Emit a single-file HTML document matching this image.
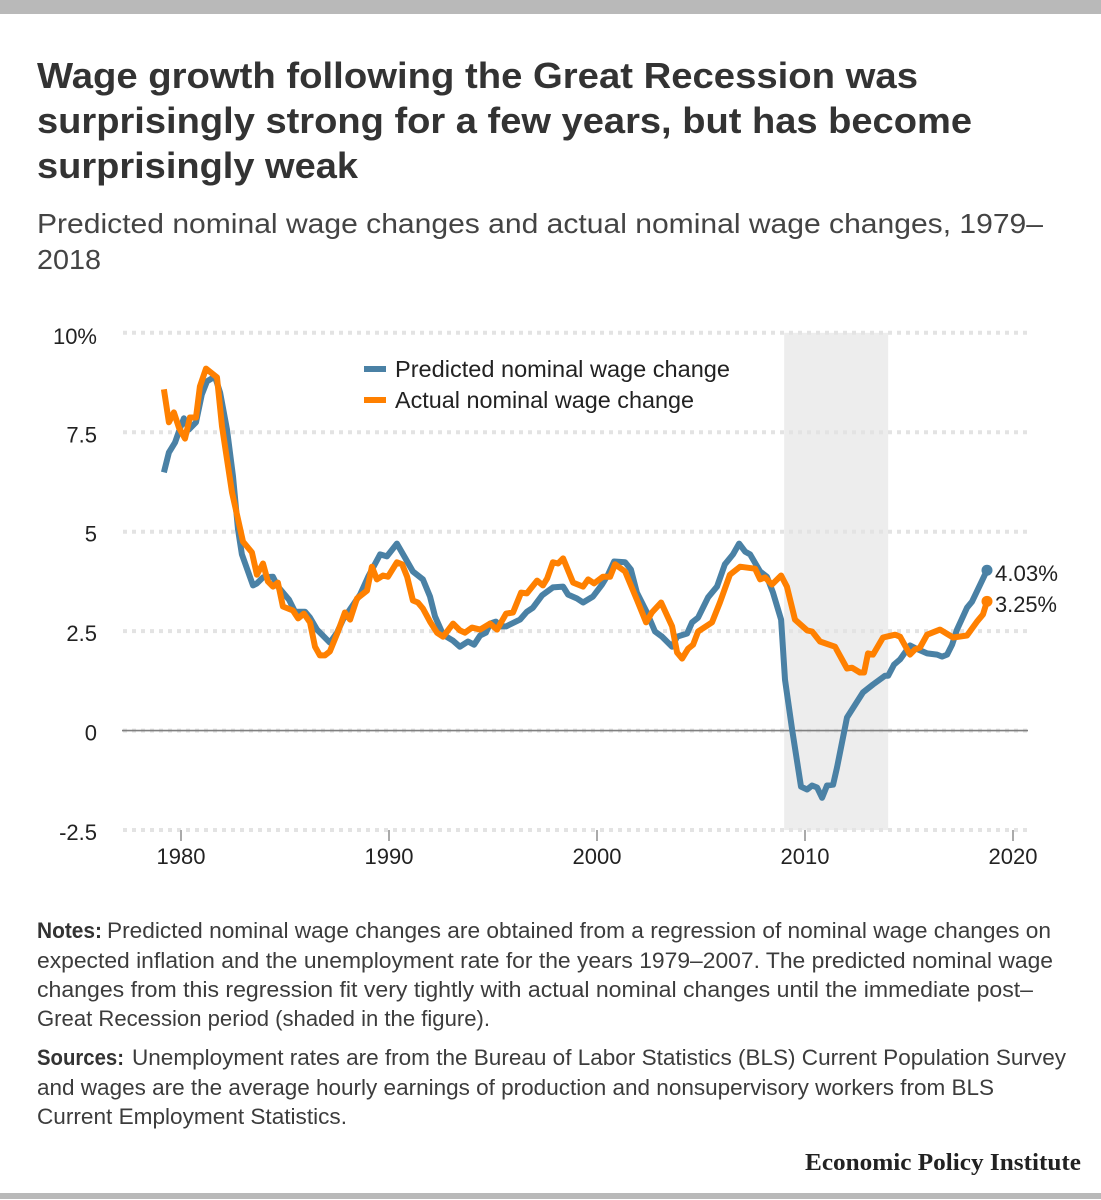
<!DOCTYPE html>
<html lang="en">
<head>
<meta charset="utf-8">
<title>Wage growth following the Great Recession</title>
<style>
html,body{margin:0;padding:0;background:#fff;}
svg{display:block;font-family:"Liberation Sans",sans-serif;}
.title{font-size:36px;font-weight:bold;fill:#333;}
.sub{font-size:28px;fill:#444;}
.note{font-size:22px;fill:#3c3c3c;}
.noteb{font-size:22px;fill:#333;font-weight:bold;}
</style>
</head>
<body>
<svg id="page" xmlns="http://www.w3.org/2000/svg" width="1101" height="1200" viewBox="0 0 1101 1200">
<rect x="0" y="0" width="1101" height="14" fill="#b9b9b9"/>
<rect x="0" y="1193" width="1101" height="6" fill="#b9b9b9"/>
<g>
<text class="title" x="37" y="88" textLength="881" lengthAdjust="spacingAndGlyphs">Wage growth following the Great Recession was</text>
<text class="title" x="37" y="133" textLength="935" lengthAdjust="spacingAndGlyphs">surprisingly strong for a few years, but has become</text>
<text class="title" x="37" y="178" textLength="321" lengthAdjust="spacingAndGlyphs">surprisingly weak</text>
</g>
<g>
<text class="sub" x="37" y="233" textLength="1006" lengthAdjust="spacingAndGlyphs">Predicted nominal wage changes and actual nominal wage changes, 1979–</text>
<text class="sub" x="37" y="269" textLength="64" lengthAdjust="spacingAndGlyphs">2018</text>
</g>
<g id="plot"></g>
<g>
<text class="noteb" x="37" y="938" textLength="65" lengthAdjust="spacingAndGlyphs">Notes:</text>
<text class="note" x="107" y="938" textLength="944" lengthAdjust="spacingAndGlyphs">Predicted nominal wage changes are obtained from a regression of nominal wage changes on</text>
<text class="note" x="37" y="968" textLength="1016" lengthAdjust="spacingAndGlyphs">expected inflation and the unemployment rate for the years 1979–2007. The predicted nominal wage</text>
<text class="note" x="37" y="997" textLength="996" lengthAdjust="spacingAndGlyphs">changes from this regression fit very tightly with actual nominal changes until the immediate post–</text>
<text class="note" x="37" y="1026" textLength="453" lengthAdjust="spacingAndGlyphs">Great Recession period (shaded in the figure).</text>
</g>
<g>
<text class="noteb" x="37" y="1065" textLength="87" lengthAdjust="spacingAndGlyphs">Sources:</text>
<text class="note" x="132" y="1065" textLength="934" lengthAdjust="spacingAndGlyphs">Unemployment rates are from the Bureau of Labor Statistics (BLS) Current Population Survey</text>
<text class="note" x="37" y="1095" textLength="957" lengthAdjust="spacingAndGlyphs">and wages are the average hourly earnings of production and nonsupervisory workers from BLS</text>
<text class="note" x="37" y="1124" textLength="310" lengthAdjust="spacingAndGlyphs">Current Employment Statistics.</text>
</g>
<text x="805" y="1170" textLength="276" lengthAdjust="spacingAndGlyphs" style="font-family:'Liberation Serif',serif;font-weight:bold;font-size:24px;fill:#222;">Economic Policy Institute</text>
</svg>
<script>
const predictedYears = [1979.18,1979.42,1979.71,1979.9,1980.14,1980.38,1980.72,1981.0,1981.25,1981.63,1981.88,1982.21,1982.5,1982.74,1982.93,1983.46,1983.65,1983.94,1984.42,1984.66,1985.19,1985.48,1985.96,1986.2,1986.54,1987.16,1987.5,1987.79,1988.22,1988.61,1989.0,1989.57,1989.9,1990.38,1990.77,1991.15,1991.63,1991.97,1992.21,1992.6,1993.08,1993.41,1993.8,1994.09,1994.38,1994.66,1994.86,1995.14,1995.34,1995.63,1996.3,1996.63,1996.92,1997.36,1997.88,1998.37,1998.61,1999.04,1999.33,1999.81,2000.24,2000.53,2000.82,2001.35,2001.63,2001.92,2002.4,2002.79,2003.13,2003.61,2003.85,2004.33,2004.57,2004.86,2005.34,2005.77,2006.15,2006.54,2006.83,2007.12,2007.36,2007.84,2008.17,2008.46,2008.85,2009.04,2009.38,2009.81,2010.1,2010.34,2010.58,2010.82,2011.06,2011.35,2011.54,2011.78,2012.02,2012.79,2013.27,2013.85,2014.0,2014.28,2014.57,2015.05,2015.43,2015.87,2016.35,2016.59,2016.83,2017.07,2017.31,2017.79,2018.03,2018.75];
const predictedValues = [6.49,6.99,7.24,7.52,7.85,7.57,7.75,8.45,8.78,8.90,8.50,7.57,6.39,5.06,4.43,3.65,3.70,3.85,3.87,3.62,3.29,2.99,2.99,2.84,2.54,2.21,2.46,2.79,3.12,3.42,3.87,4.43,4.38,4.70,4.35,4.00,3.80,3.37,2.87,2.41,2.26,2.11,2.24,2.16,2.39,2.46,2.69,2.74,2.62,2.62,2.79,2.99,3.09,3.40,3.60,3.62,3.42,3.32,3.22,3.37,3.67,3.92,4.25,4.23,4.05,3.47,2.97,2.49,2.36,2.11,2.36,2.44,2.72,2.84,3.35,3.62,4.18,4.43,4.70,4.50,4.43,4.00,3.87,3.47,2.79,1.28,0.03,-1.41,-1.48,-1.38,-1.43,-1.69,-1.38,-1.36,-0.93,-0.30,0.33,0.96,1.16,1.38,1.38,1.66,1.79,2.14,2.04,1.94,1.91,1.86,1.91,2.16,2.54,3.09,3.24,4.03];
const actualYears = [1979.18,1979.42,1979.66,1979.9,1980.19,1980.43,1980.72,1980.91,1981.2,1981.73,1981.97,1982.45,1982.98,1983.41,1983.65,1983.94,1984.18,1984.42,1984.66,1984.9,1985.38,1985.63,1985.91,1986.2,1986.44,1986.68,1986.92,1987.16,1987.55,1987.88,1988.13,1988.46,1988.94,1989.18,1989.42,1989.71,1989.95,1990.38,1990.63,1990.87,1991.15,1991.39,1991.63,1991.97,1992.31,1992.6,1993.08,1993.41,1993.65,1993.99,1994.38,1994.86,1995.19,1995.63,1995.96,1996.35,1996.63,1997.12,1997.4,1997.6,1997.88,1998.13,1998.37,1998.85,1999.33,1999.57,1999.86,2000.29,2000.63,2000.87,2001.35,2001.92,2002.36,2002.64,2003.08,2003.61,2003.85,2004.09,2004.38,2004.62,2004.86,2005.53,2005.91,2006.39,2006.88,2007.6,2007.84,2008.08,2008.41,2008.85,2009.13,2009.52,2010.1,2010.34,2010.72,2011.44,2012.02,2012.26,2012.64,2012.84,2013.03,2013.27,2013.75,2014.33,2014.57,2015.05,2015.29,2015.53,2015.87,2016.49,2017.12,2017.79,2018.27,2018.56,2018.75];
const actualValues = [8.58,7.75,8.00,7.62,7.34,7.87,7.87,8.65,9.10,8.88,7.65,5.99,4.75,4.48,3.92,4.20,3.75,3.62,3.72,3.12,3.02,2.82,2.94,2.72,2.11,1.89,1.89,1.99,2.49,2.97,2.79,3.32,3.52,4.12,3.80,3.90,3.87,4.23,4.18,3.87,3.27,3.22,3.07,2.74,2.46,2.36,2.69,2.52,2.46,2.59,2.54,2.69,2.54,2.94,2.97,3.47,3.45,3.77,3.65,3.82,4.23,4.20,4.33,3.72,3.62,3.80,3.70,3.87,3.87,4.18,4.00,3.29,2.72,2.97,3.22,2.62,1.96,1.81,2.06,2.16,2.49,2.72,3.22,3.92,4.12,4.07,3.80,3.85,3.67,3.90,3.62,2.79,2.52,2.49,2.24,2.11,1.56,1.58,1.46,1.46,1.94,1.91,2.34,2.41,2.36,1.91,2.04,2.09,2.41,2.54,2.34,2.39,2.74,2.92,3.25];
const yTicks = [10,7.5,5,2.5,0,-2.5];
const yTickLabels = ["10%","7.5","5","2.5","0","-2.5"];
const xTicks = [1980,1990,2000,2010,2020];
const xTickLabels = ["1980","1990","2000","2010","2020"];
const recessionSpan = [2009,2014];
const seriesNames = ["Predicted nominal wage change","Actual nominal wage change"];

const BLUE = "#4a81a5", ORANGE = "#ff8000";
const NS = "http://www.w3.org/2000/svg";
const plot = document.getElementById("plot");
function xScale(year){ return 181 + (year - 1980) * 20.8; }
function yScale(v){ return 730.6 - v * 39.78; }
function make(tag, attrs, text){
  const el = document.createElementNS(NS, tag);
  for (const k in attrs) el.setAttribute(k, attrs[k]);
  if (text !== undefined) el.textContent = text;
  plot.appendChild(el);
  return el;
}

const shade = make("rect", {x:xScale(recessionSpan[0]), y:yScale(10), width:xScale(recessionSpan[1])-xScale(recessionSpan[0]), height:yScale(-2.5)-yScale(10), fill:"#ededed"});



yTicks.forEach(function(t, i){
  const g = make("line", {x1:123, x2:1028, y1:yScale(t), y2:yScale(t), stroke:"#e3e3e3", "stroke-width":4, "stroke-dasharray":"4 5"});
  
  
  const l = make("text", {x:97, y:yScale(t)+ (i===0?11:10), "text-anchor":"end", "font-size":22, fill:"#222"}, yTickLabels[i]);
  
  
});

const zero = make("line", {x1:122, x2:1028, y1:yScale(0), y2:yScale(0), stroke:"#808080", "stroke-width":1.6});



xTicks.forEach(function(t, i){
  const m = make("line", {x1:xScale(t), x2:xScale(t), y1:830, y2:841, stroke:"#aaa", "stroke-width":2});
  
  
  const l = make("text", {x:xScale(t), y:864, "text-anchor":"middle", "font-size":22, fill:"#222"}, xTickLabels[i]);
  
  
});

function pathFor(years, values){
  return years.map(function(y, i){ return (i ? "L" : "M") + xScale(y).toFixed(1) + " " + yScale(values[i]).toFixed(1); }).join(" ");
}

const predLine = make("path", {d:pathFor(predictedYears, predictedValues), fill:"none", stroke:BLUE, "stroke-width":6, "stroke-linejoin":"round"});


const actLine = make("path", {d:pathFor(actualYears, actualValues), fill:"none", stroke:ORANGE, "stroke-width":6, "stroke-linejoin":"round"});



const lastP = predictedValues.length - 1, lastA = actualValues.length - 1;
const predDot = make("circle", {cx:xScale(predictedYears[lastP]), cy:yScale(predictedValues[lastP]), r:5.5, fill:BLUE});


const actDot = make("circle", {cx:xScale(actualYears[lastA]), cy:yScale(actualValues[lastA]), r:5.5, fill:ORANGE});


const predEnd = make("text", {x:995, y:yScale(predictedValues[lastP])+10.5, "font-size":22, fill:"#222", textLength:63, lengthAdjust:"spacingAndGlyphs"}, predictedValues[lastP].toFixed(2)+"%");


const actEnd = make("text", {x:995, y:yScale(actualValues[lastA])+10.5, "font-size":22, fill:"#222", textLength:62, lengthAdjust:"spacingAndGlyphs"}, actualValues[lastA].toFixed(2)+"%");



const sw1 = make("line", {x1:364, x2:386, y1:369, y2:369, stroke:BLUE, "stroke-width":6});


const sw2 = make("line", {x1:364, x2:386, y1:400, y2:400, stroke:ORANGE, "stroke-width":6});


const lg1 = make("text", {x:395, y:377, "font-size":23, fill:"#222", textLength:335, lengthAdjust:"spacingAndGlyphs"}, seriesNames[0]);


const lg2 = make("text", {x:395, y:408, "font-size":23, fill:"#222", textLength:299, lengthAdjust:"spacingAndGlyphs"}, seriesNames[1]);


</script>
</body>
</html>
